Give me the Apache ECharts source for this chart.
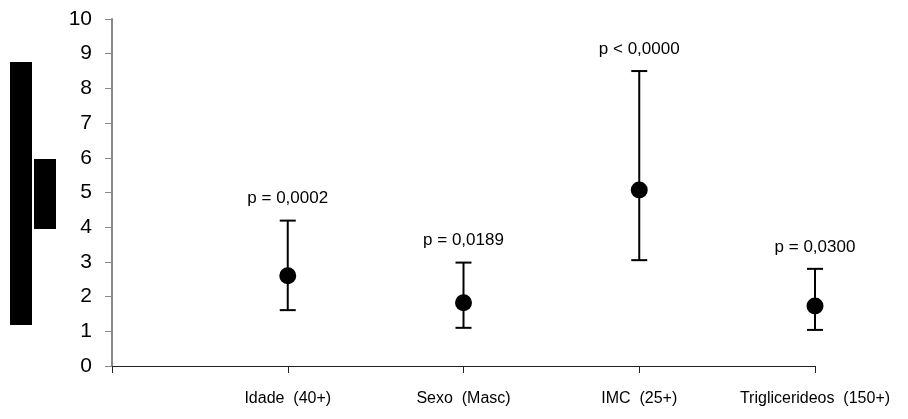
<!DOCTYPE html>
<html lang="pt">
<head>
    <meta charset="UTF-8">
    <title>Odds ratio</title>
    <script src="https://cdn.jsdelivr.net/npm/echarts@6/dist/echarts.min.js"></script>
    <style>
        body { margin: 0; padding: 0; background: #fff; }
        #chart { width: 908px; height: 419px; }
    </style>
</head>
<body>
    <div id="chart"></div>
    <script>
        // dados
        const categories = ['', 'Idade  (40+)', 'Sexo  (Masc)', 'IMC  (25+)', 'Triglicerideos  (150+)'];
        const means = ['-', 2.60, 1.82, 5.07, 1.73];
        const lower = ['-', 1.61, 1.10, 3.05, 1.04];
        const upper = ['-', 4.19, 2.98, 8.50, 2.80];
        const pLabels = ['', 'p = 0,0002', 'p = 0,0189', 'p < 0,0000', 'p = 0,0300'];
        const yTicks = [0, 1, 2, 3, 4, 5, 6, 7, 8, 9, 10];

        const font = '"Liberation Sans", Arial, sans-serif';

        const errData = [];
        for (let i = 0; i < categories.length; i++) {
            if (upper[i] !== '-') errData.push([i, lower[i], upper[i], pLabels[i]]);
        }

        const chart = echarts.init(document.getElementById('chart'));
        const option = {
            backgroundColor: '#fff',
            animation: false,
            grid: { left: 112, top: 19, right: 93, bottom: 53 },
            xAxis: {
                type: 'category',
                data: categories,
                boundaryGap: false,
                axisLine: { lineStyle: { color: '#222', width: 1 } },
                axisTick: { show: true, length: 7, lineStyle: { color: '#222' } },
                axisLabel: { color: '#000', fontSize: 16, fontFamily: font, margin: 25, interval: 0 },
                splitLine: { show: false }
            },
            yAxis: {
                type: 'value',
                min: yTicks[0],
                max: yTicks[yTicks.length - 1],
                interval: 1,
                axisLine: { show: true, lineStyle: { color: '#888', width: 2 } },
                axisTick: { show: true, length: 7, lineStyle: { color: '#888' } },
                axisLabel: { color: '#000', fontSize: 21, fontFamily: font, margin: 20 },
                splitLine: { show: false }
            },
            graphic: [
                { type: 'rect', shape: { x: 10, y: 62, width: 22, height: 263 }, style: { fill: '#000' } },
                { type: 'rect', shape: { x: 34, y: 159, width: 22, height: 70 }, style: { fill: '#000' } }
            ],
            series: [
                {
                    type: 'custom',
                    data: errData,
                    z: 2,
                    renderItem: function (params, api) {
                        const lo = api.coord([api.value(0), api.value(1)]);
                        const hi = api.coord([api.value(0), api.value(2)]);
                        const cap = 8;
                        const st = { stroke: '#000', lineWidth: 2 };
                        return {
                            type: 'group',
                            children: [
                                { type: 'line', shape: { x1: lo[0], y1: lo[1], x2: hi[0], y2: hi[1] }, style: st },
                                { type: 'line', shape: { x1: lo[0] - cap, y1: lo[1], x2: lo[0] + cap, y2: lo[1] }, style: st },
                                { type: 'line', shape: { x1: hi[0] - cap, y1: hi[1], x2: hi[0] + cap, y2: hi[1] }, style: st },
                                {
                                    type: 'text',
                                    x: hi[0],
                                    y: hi[1] - 22,
                                    style: {
                                        text: errData[params.dataIndex][3],
                                        fill: '#000',
                                        font: '17px ' + font,
                                        align: 'center',
                                        verticalAlign: 'middle'
                                    }
                                }
                            ]
                        };
                    }
                },
                {
                    type: 'scatter',
                    data: means,
                    symbol: 'circle',
                    symbolSize: 17,
                    itemStyle: { color: '#000', opacity: 1 },
                    z: 3
                }
            ]
        };
        chart.setOption(option);
    </script>
</body>
</html>
